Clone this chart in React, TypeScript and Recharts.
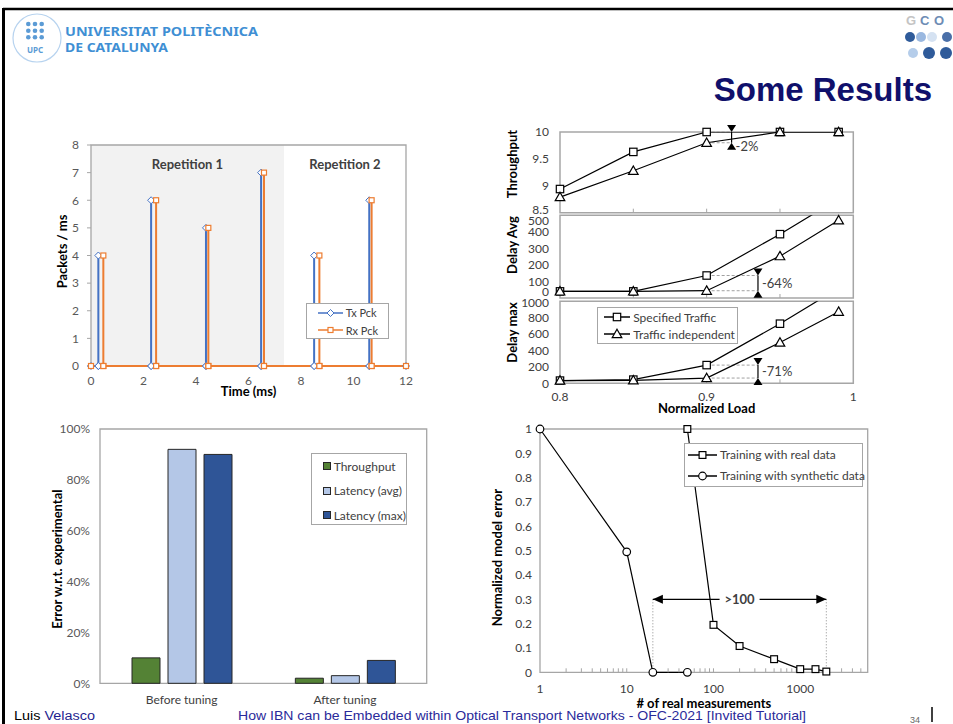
import React from "react"
import {
  LineChart,
  Line,
  BarChart,
  Bar,
  XAxis,
  YAxis,
  ReferenceArea,
  ReferenceLine,
  ReferenceDot,
  Legend,
} from "recharts"

const FONT = "Lato, 'Noto Sans', sans-serif"
const FRAME = "#a6a6a6"

// packets per ms, Tx vs Rx (top left)
const txTimes = [0.28, 2.29, 4.38, 6.48, 8.5, 10.6]
const txPackets = [4, 6, 5, 7, 4, 6]
const rxTimes = [0.47, 2.48, 4.47, 6.59, 8.7, 10.69]
const rxPackets = [4, 6, 5, 7, 4, 6]
const timeTicks = [0, 2, 4, 6, 8, 10, 12]
const packetTicks = [0, 1, 2, 3, 4, 5, 6, 7, 8]
const repetitionNames = ["Repetition 1", "Repetition 2"]
const repetitionEdges = [0, 7.35, 12]
const packetSeries = ["Tx Pck", "Rx Pck"]

// throughput / delay vs normalized load (top right)
const loads = [0.8, 0.85, 0.9, 0.95, 0.99]
const loadTicks = [0.8, 0.85, 0.9, 0.95, 1]
const loadLabels = [0.8, 0.9, 1]
const throughputSpecified = [8.94, 9.63, 10, 10, 10]
const throughputIndependent = [8.79, 9.28, 9.8, 10, 10]
const delayAvgSpecified = [40, 40, 136, 386, 600]
const delayAvgIndependent = [40, 40, 44, 253, 470]
const delayMaxSpecified = [33, 45, 222, 727, 1160]
const delayMaxIndependent = [33, 36, 64, 497, 873]
const throughputTicks = [8.5, 9, 9.5, 10]
const delayAvgTicks = [0, 100, 200, 300, 400, 500]
const delayMaxTicks = [0, 200, 400, 600, 800, 1000]
const gapLoads = [0.917, 0.935, 0.935]
const gapLabels = ["-2%", "-64%", "-71%"]
const gapLabelLevels = [9.73, 90, 150]
const trafficSeries = ["Specified Traffic", "Traffic independent"]

// error before / after tuning (bottom left)
const tuningStages = ["Before tuning", "After tuning"]
const throughputError = [0.1, 0.02]
const latencyAvgError = [0.92, 0.03]
const latencyMaxError = [0.9, 0.09]
const errorTicks = [0, 0.2, 0.4, 0.6, 0.8, 1]
const errorSeries = ["Throughput", "Latency (avg)", "Latency (max)"]

// normalized model error vs # of real measurements (bottom right)
const realCounts = [50, 100, 200, 500, 1000, 1500, 2000]
const realError = [1, 0.195, 0.108, 0.054, 0.013, 0.013, 0.003]
const syntheticCounts = [1, 10, 20, 50]
const syntheticError = [1, 0.495, 0, 0]
const measurementTicks = [1, 10, 100, 1000]
const measurementMinorTicks = [
  2, 3, 4, 5, 6, 7, 8, 9, 10, 20, 30, 40, 50, 60, 70, 80, 90, 100, 200, 300, 400, 500, 600, 700, 800, 900, 1000,
  2000, 3000, 4000, 5000,
]
const normErrorTicks = [0, 0.1, 0.2, 0.3, 0.4, 0.5, 0.6, 0.7, 0.8, 0.9, 1]
const speedupSpan = [20, 2000]
const speedupLevel = 0.3
const speedupLabel = ">100"
const trainingSeries = ["Training with real data", "Training with synthetic data"]

// ---------- small svg pieces

type MarkProps = { cx?: number; cy?: number; ink?: string; size?: number }

const Diamond = ({ cx = 0, cy = 0, ink = "#000", size = 4 }: MarkProps) => (
  <path
    d={`M${cx},${cy - size}L${cx + size},${cy}L${cx},${cy + size}L${cx - size},${cy}Z`}
    fill="#fff"
    stroke={ink}
    strokeWidth={1}
  />
)

const Square = ({ cx = 0, cy = 0, ink = "#000", size = 4 }: MarkProps) => (
  <rect x={cx - size} y={cy - size} width={size * 2} height={size * 2} fill="#fff" stroke={ink} strokeWidth={1.2} />
)

const Triangle = ({ cx = 0, cy = 0, ink = "#000", size = 4.5 }: MarkProps) => (
  <path
    d={`M${cx},${cy - size}L${cx + size},${cy + size * 0.75}L${cx - size},${cy + size * 0.75}Z`}
    fill="#fff"
    stroke={ink}
    strokeWidth={1.2}
  />
)

const Ring = ({ cx = 0, cy = 0, ink = "#000", size = 3.8 }: MarkProps) => (
  <circle cx={cx} cy={cy} r={size} fill="#fff" stroke={ink} strokeWidth={1.2} />
)

const ArrowHead = ({ cx = 0, cy = 0, dir }: { cx?: number; cy?: number; dir: "up" | "down" | "left" | "right" }) => {
  const w = 4.5
  const h = 7
  const d = {
    down: `M${cx},${cy}L${cx - w},${cy - h}L${cx + w},${cy - h}Z`,
    up: `M${cx},${cy}L${cx - w},${cy + h}L${cx + w},${cy + h}Z`,
    left: `M${cx},${cy}L${cx + h + 3},${cy - w}L${cx + h + 3},${cy + w}Z`,
    right: `M${cx},${cy}L${cx - h - 3},${cy - w}L${cx - h - 3},${cy + w}Z`,
  }[dir]
  return <path d={d} fill="#000" />
}

const InnerTick = ({ cx = 0, cy = 0 }: { cx?: number; cy?: number }) => (
  <line x1={cx} y1={cy} x2={cx} y2={cy - 4} stroke={FRAME} strokeWidth={1} />
)

const Blank = () => <g />

const LabelPad = ({ cx = 0, cy = 0 }: { cx?: number; cy?: number }) => (
  <rect x={cx - 20} y={cy - 7} width={40} height={14} fill="#fff" />
)

const sideTitle = (text: string, dx: number, dy: number) => ({
  content: ({ viewBox }: any) => {
    const x = viewBox.x + dx
    const y = viewBox.y + viewBox.height / 2 + dy
    return (
      <text
        x={x}
        y={y}
        transform={`rotate(-90 ${x} ${y})`}
        textAnchor="middle"
        dominantBaseline="central"
        fontSize={13}
        fontWeight={700}
        fill="#000"
      >
        {text}
      </text>
    )
  },
})

const ShiftedTick = ({ x = 0, y = 0, payload, lo, hi, shift }: any) => {
  const v = payload.value
  const dy = v === lo ? shift[0] : v === hi ? shift[1] : 0
  return (
    <text x={x} y={y + dy} dy="0.35em" textAnchor="end" fontSize={12} fill="#404040">
      {v}
    </text>
  )
}

type LegendLayout = {
  left: number
  top: number
  width: number
  height: number
  rowHeight: number
  padTop: number
  iconLeft: number
  iconWidth: number
  fontSize: number
}

function LegendBox({
  payload = [],
  order,
  layout,
  glyph,
}: {
  payload?: any[]
  order: string[]
  layout: LegendLayout
  glyph: (entry: any, w: number, h: number) => React.ReactNode
}) {
  const entries = payload
    .filter((entry) => entry && entry.type !== "none" && order.includes(entry.value))
    .sort((a, b) => order.indexOf(a.value) - order.indexOf(b.value))
  return (
    <div
      style={{
        width: "100%",
        height: "100%",
        boxSizing: "border-box",
        border: `1.3px solid ${FRAME}`,
        background: "#fff",
        paddingTop: layout.padTop,
        fontFamily: FONT,
      }}
    >
      {entries.map((entry) => (
        <div
          key={String(entry.value)}
          style={{
            display: "flex",
            alignItems: "center",
            height: layout.rowHeight,
            paddingLeft: layout.iconLeft,
            fontSize: layout.fontSize,
            color: "#404040",
            whiteSpace: "nowrap",
          }}
        >
          <svg width={layout.iconWidth} height={12} style={{ marginRight: 3, flex: "none" }}>
            {glyph(entry, layout.iconWidth, 12)}
          </svg>
          <span>{entry.value}</span>
        </div>
      ))}
    </div>
  )
}

const lineGlyph = (marks: Record<string, React.ReactElement<any>>) => (entry: any, w: number, h: number) => {
  const mark = marks[entry.value]
  return (
    <>
      <line x1={0} y1={h / 2} x2={w} y2={h / 2} stroke={entry.color} strokeWidth={1.5} />
      {mark ? React.cloneElement(mark, { cx: w / 2, cy: h / 2 }) : null}
    </>
  )
}

const swatchGlyph = (entry: any, w: number, h: number) => (
  <rect x={0.5} y={(h - w) / 2 + 0.5} width={w - 1} height={w - 1} fill={entry.color} stroke="#262626" strokeWidth={1} />
)

const placeLegend = (layout: LegendLayout) => ({
  left: layout.left,
  top: layout.top,
  width: layout.width,
  height: layout.height,
})

// ---------- top left

const spikeRows = (times: number[], values: number[]) => [
  { t: timeTicks[0], v: 0 },
  ...times.flatMap((t, i) => [
    { t, v: 0 },
    { t, v: values[i] },
    { t, v: 0 },
  ]),
  { t: timeTicks[timeTicks.length - 1], v: 0 },
]

const packetLegend: LegendLayout = {
  left: 275.7,
  top: 172.7,
  width: 83.6,
  height: 36.6,
  rowHeight: 17.3,
  padTop: 0.5,
  iconLeft: 11,
  iconWidth: 25,
  fontSize: 11,
}

function PacketChart() {
  const marks: Record<string, React.ReactElement<any>> = {
    "Tx Pck": <Diamond ink="#4472c4" size={3.5} />,
    "Rx Pck": <Square ink="#ed7d31" size={2.5} />,
  }
  return (
    <div style={{ position: "absolute", left: 30, top: 130 }}>
      <LineChart width={390} height={280} margin={{ top: 15, right: 14, bottom: 14, left: 21 }}>
        <XAxis
          type="number"
          dataKey="t"
          domain={[0, 12]}
          ticks={timeTicks}
          interval={0}
          axisLine={false}
          tickLine={false}
          tickSize={6}
          tickMargin={4}
          height={30}
          tick={{ fontSize: 12, fill: "#595959" }}
          label={{ value: "Time (ms)", position: "insideBottom", offset: 0, fontSize: 13, fontWeight: 700, fill: "#000" }}
        />
        <YAxis
          domain={[0, 8]}
          ticks={packetTicks}
          interval={0}
          width={40}
          axisLine={false}
          tickLine={{ stroke: FRAME }}
          tickSize={4}
          tickMargin={8}
          tick={{ fontSize: 12, fill: "#595959" }}
          label={sideTitle("Packets / ms", 10.7, -4)}
        />
        {repetitionNames.map((name, i) => (
          <ReferenceArea
            key={name}
            x1={repetitionEdges[i]}
            x2={repetitionEdges[i + 1]}
            fill={i === 0 ? "#f2f2f2" : "none"}
            fillOpacity={1}
            stroke="none"
            label={{ value: name, position: "insideTop", offset: 14.4, fontSize: 13, fontWeight: 700, fill: "#404040" }}
          />
        ))}
        <ReferenceArea y1={0} y2={8} fill="none" stroke={FRAME} strokeWidth={1.3} />
        <Line
          data={spikeRows(txTimes, txPackets)}
          dataKey="v"
          name={packetSeries[0]}
          stroke="#4472c4"
          strokeWidth={2}
          dot={marks[packetSeries[0]]}
          isAnimationActive={false}
        />
        <Line
          data={spikeRows(rxTimes, rxPackets)}
          dataKey="v"
          name={packetSeries[1]}
          stroke="#ed7d31"
          strokeWidth={2}
          dot={marks[packetSeries[1]]}
          isAnimationActive={false}
        />
        <Legend
          layout="vertical"
          align="center"
          verticalAlign="middle"
          wrapperStyle={placeLegend(packetLegend)}
          content={(props: any) => (
            <LegendBox payload={props.payload} order={packetSeries} layout={packetLegend} glyph={lineGlyph(marks)} />
          )}
        />
      </LineChart>
    </div>
  )
}

// ---------- top right

type PanelSpec = {
  top: number
  height: number
  margin: { top: number; right: number; bottom: number; left: number }
  title: string
  titleDy: number
  specified: number[]
  independent: number[]
  domain: [number, number]
  ticks: number[]
  labelShift: [number, number]
  showLoadAxis?: boolean
  showLegend?: boolean
}

const panels: PanelSpec[] = [
  {
    top: 115,
    height: 110,
    margin: { top: 17, right: 16.7, bottom: 12.3, left: 15 },
    title: "Throughput",
    titleDy: -8.3,
    specified: throughputSpecified,
    independent: throughputIndependent,
    domain: [8.5, 10],
    ticks: throughputTicks,
    labelShift: [-3.4, 0],
  },
  {
    top: 200,
    height: 110,
    margin: { top: 15.3, right: 16.7, bottom: 12, left: 15 },
    title: "Delay Avg",
    titleDy: -11.6,
    specified: delayAvgSpecified,
    independent: delayAvgIndependent,
    domain: [0, 500],
    ticks: delayAvgTicks,
    labelShift: [-6, 5.7],
  },
  {
    top: 285,
    height: 145,
    margin: { top: 16.3, right: 16.7, bottom: 11.7, left: 15 },
    title: "Delay max",
    titleDy: -9.8,
    specified: delayMaxSpecified,
    independent: delayMaxIndependent,
    domain: [0, 1000],
    ticks: delayMaxTicks,
    labelShift: [0, 1.4],
    showLoadAxis: true,
    showLegend: true,
  },
]

const panelLegend: LegendLayout = {
  left: 106.7,
  top: 22,
  width: 141.6,
  height: 36.7,
  rowHeight: 17.3,
  padTop: 0.5,
  iconLeft: 6.5,
  iconWidth: 26,
  fontSize: 12,
}

const loadRows = (values: number[]) => loads.map((load, i) => ({ load, value: values[i] }))

function LoadPanel({ spec, index }: { spec: PanelSpec; index: number }) {
  const [lo, hi] = spec.domain
  const at09 = loads.indexOf(0.9)
  const upper = spec.specified[at09]
  const lower = spec.independent[at09]
  const gx = gapLoads[index]
  const marks: Record<string, React.ReactElement<any>> = {
    [trafficSeries[0]]: <Square size={3.7} />,
    [trafficSeries[1]]: <Triangle size={4.8} />,
  }
  const series = [
    { name: trafficSeries[0], values: spec.specified },
    { name: trafficSeries[1], values: spec.independent },
  ]
  return (
    <div style={{ position: "absolute", left: 490, top: spec.top }}>
      <LineChart width={380} height={spec.height} margin={spec.margin}>
        {spec.showLoadAxis ? (
          <XAxis
            type="number"
            dataKey="load"
            domain={[0.8, 1]}
            ticks={loadLabels}
            interval={0}
            axisLine={false}
            tickLine={false}
            tickSize={5}
            tickMargin={4}
            height={35}
            tick={{ fontSize: 12, fill: "#404040" }}
            label={{
              value: "Normalized Load",
              position: "insideBottom",
              offset: 5,
              fontSize: 13,
              fontWeight: 700,
              fill: "#000",
            }}
          />
        ) : (
          <XAxis type="number" dataKey="load" domain={[0.8, 1]} hide />
        )}
        <YAxis
          yAxisId="v"
          domain={spec.domain}
          ticks={spec.ticks}
          interval={0}
          allowDataOverflow
          width={55}
          axisLine={false}
          tickLine={false}
          tickSize={8}
          tickMargin={3}
          tick={<ShiftedTick lo={spec.ticks[0]} hi={spec.ticks[spec.ticks.length - 1]} shift={spec.labelShift} />}
          label={sideTitle(spec.title, 6.7, spec.titleDy)}
        />
        {/* same scale, no clipping: lets the markers sit on the frame edge */}
        <YAxis yAxisId="m" orientation="right" domain={spec.domain} hide />
        <ReferenceArea yAxisId="v" y1={lo} y2={hi} fill="none" stroke={FRAME} strokeWidth={1.5} />
        {loadTicks.slice(1, -1).map((t) => (
          <ReferenceDot key={t} yAxisId="v" x={t} y={lo} shape={<InnerTick />} />
        ))}
        <ReferenceLine
          yAxisId="v"
          segment={[
            { x: 0.9, y: upper },
            { x: gx, y: upper },
          ]}
          stroke="#a0a0a0"
          strokeDasharray="3 2"
        />
        <ReferenceLine
          yAxisId="v"
          segment={[
            { x: 0.9, y: lower },
            { x: gx, y: lower },
          ]}
          stroke="#a0a0a0"
          strokeDasharray="3 2"
        />
        <ReferenceLine
          yAxisId="v"
          segment={[
            { x: gx, y: upper },
            { x: gx, y: lower },
          ]}
          stroke="#000"
          strokeWidth={1.2}
        />
        <ReferenceDot yAxisId="v" x={gx} y={upper} shape={<ArrowHead dir="down" />} />
        <ReferenceDot yAxisId="v" x={gx} y={lower} shape={<ArrowHead dir="up" />} />
        <ReferenceDot
          yAxisId="v"
          x={gx}
          y={gapLabelLevels[index]}
          r={0}
          shape={<Blank />}
          label={{ value: gapLabels[index], position: "right", offset: 4, fontSize: 13, fill: "#404040" }}
        />
        {series.map((s) => (
          <Line
            key={s.name}
            yAxisId="v"
            data={loadRows(s.values)}
            dataKey="value"
            name={s.name}
            stroke="#000"
            strokeWidth={1.2}
            dot={false}
            isAnimationActive={false}
          />
        ))}
        {series.map((s) => (
          <Line
            key={`${s.name}-marks`}
            yAxisId="m"
            data={loadRows(s.values).filter((r) => r.value <= hi)}
            dataKey="value"
            stroke="none"
            legendType="none"
            dot={marks[s.name]}
            isAnimationActive={false}
          />
        ))}
        {spec.showLegend && (
          <Legend
            layout="vertical"
            align="center"
            verticalAlign="middle"
            wrapperStyle={placeLegend(panelLegend)}
            content={(props: any) => (
              <LegendBox payload={props.payload} order={trafficSeries} layout={panelLegend} glyph={lineGlyph(marks)} />
            )}
          />
        )}
      </LineChart>
    </div>
  )
}

// ---------- bottom left

const tuningLegend: LegendLayout = {
  left: 280.7,
  top: 38,
  width: 96.6,
  height: 72,
  rowHeight: 24.5,
  padTop: 0,
  iconLeft: 11,
  iconWidth: 8,
  fontSize: 12,
}

function TuningChart() {
  const rows = tuningStages.map((stage, i) => ({
    stage,
    throughput: throughputError[i],
    latencyAvg: latencyAvgError[i],
    latencyMax: latencyMaxError[i],
  }))
  return (
    <div style={{ position: "absolute", left: 30, top: 415 }}>
      <BarChart
        width={410}
        height={300}
        data={rows}
        margin={{ top: 14, right: 13.3, bottom: 6.7, left: 25 }}
        barSize={28}
        barGap={8}
      >
        <XAxis
          dataKey="stage"
          interval={0}
          axisLine={false}
          tickLine={false}
          tickSize={6}
          tickMargin={6}
          height={25}
          tick={{ fontSize: 12, fill: "#404040" }}
        />
        <YAxis
          domain={[0, 1]}
          ticks={errorTicks}
          interval={0}
          tickFormatter={(v: number) => `${Math.round(v * 100)}%`}
          width={45}
          axisLine={false}
          tickLine={false}
          tickSize={5}
          tickMargin={5}
          tick={{ fontSize: 12, fill: "#595959" }}
          label={sideTitle("Error w.r.t. experimental", 2, 3)}
        />
        <ReferenceArea y1={0} y2={1} fill="none" stroke={FRAME} strokeWidth={1.3} />
        <Bar dataKey="throughput" name={errorSeries[0]} fill="#548235" stroke="#262626" strokeWidth={1} isAnimationActive={false} />
        <Bar dataKey="latencyAvg" name={errorSeries[1]} fill="#b4c7e7" stroke="#262626" strokeWidth={1} isAnimationActive={false} />
        <Bar dataKey="latencyMax" name={errorSeries[2]} fill="#2f5597" stroke="#262626" strokeWidth={1} isAnimationActive={false} />
        <Legend
          layout="vertical"
          align="center"
          verticalAlign="middle"
          wrapperStyle={placeLegend(tuningLegend)}
          content={(props: any) => (
            <LegendBox payload={props.payload} order={errorSeries} layout={tuningLegend} glyph={swatchGlyph} />
          )}
        />
      </BarChart>
    </div>
  )
}

// ---------- bottom right

const measurementLegend: LegendLayout = {
  left: 204,
  top: 28,
  width: 178.7,
  height: 43.7,
  rowHeight: 21,
  padTop: 0,
  iconLeft: 3,
  iconWidth: 29,
  fontSize: 12,
}

function MeasurementChart() {
  const real = realCounts.map((n, i) => ({ n, e: realError[i] }))
  const synthetic = syntheticCounts.map((n, i) => ({ n, e: syntheticError[i] }))
  const marks: Record<string, React.ReactElement<any>> = {
    [trainingSeries[0]]: <Square size={3.4} />,
    [trainingSeries[1]]: <Ring size={3.8} />,
  }
  return (
    <div style={{ position: "absolute", left: 480, top: 415 }}>
      <LineChart width={400} height={300} margin={{ top: 14, right: 12.3, bottom: 7.7, left: 20 }}>
        <XAxis
          type="number"
          dataKey="n"
          scale="log"
          domain={[1, 6000]}
          ticks={measurementTicks}
          interval={0}
          axisLine={false}
          tickLine={false}
          tickSize={6}
          tickMargin={6}
          height={35}
          tick={{ fontSize: 12, fill: "#404040" }}
          label={{
            value: "# of real measurements",
            position: "insideBottom",
            offset: -1,
            fontSize: 13,
            fontWeight: 700,
            fill: "#000",
          }}
        />
        <YAxis
          domain={[0, 1]}
          ticks={normErrorTicks}
          interval={0}
          width={40}
          axisLine={false}
          tickLine={false}
          tickSize={5}
          tickMargin={3}
          tick={{ fontSize: 12, fill: "#404040" }}
          label={sideTitle("Normalized model error", -3.3, 7)}
        />
        <ReferenceArea y1={0} y2={1} fill="none" stroke={FRAME} strokeWidth={1.3} />
        {measurementMinorTicks.map((t) => (
          <ReferenceDot key={t} x={t} y={0} shape={<InnerTick />} />
        ))}
        {speedupSpan.map((n) => (
          <ReferenceLine
            key={n}
            segment={[
              { x: n, y: 0 },
              { x: n, y: speedupLevel },
            ]}
            stroke="#8c8c8c"
            strokeDasharray="1 2"
          />
        ))}
        <ReferenceLine
          segment={[
            { x: speedupSpan[0], y: speedupLevel },
            { x: speedupSpan[1], y: speedupLevel },
          ]}
          stroke="#000"
          strokeWidth={1.3}
        />
        <ReferenceDot x={speedupSpan[0]} y={speedupLevel} shape={<ArrowHead dir="left" />} />
        <ReferenceDot x={speedupSpan[1]} y={speedupLevel} shape={<ArrowHead dir="right" />} />
        <ReferenceDot
          x={Math.sqrt(speedupSpan[0] * speedupSpan[1])}
          y={speedupLevel}
          r={0}
          shape={<LabelPad />}
          label={{ value: speedupLabel, position: "center", fontSize: 13, fontWeight: 700, fill: "#404040" }}
        />
        <Line
          data={real}
          dataKey="e"
          name={trainingSeries[0]}
          stroke="#000"
          strokeWidth={1.2}
          dot={marks[trainingSeries[0]]}
          isAnimationActive={false}
        />
        <Line
          data={synthetic}
          dataKey="e"
          name={trainingSeries[1]}
          stroke="#000"
          strokeWidth={1.2}
          dot={marks[trainingSeries[1]]}
          isAnimationActive={false}
        />
        <Legend
          layout="vertical"
          align="center"
          verticalAlign="middle"
          wrapperStyle={placeLegend(measurementLegend)}
          content={(props: any) => (
            <LegendBox payload={props.payload} order={trainingSeries} layout={measurementLegend} glyph={lineGlyph(marks)} />
          )}
        />
      </LineChart>
    </div>
  )
}

// ---------- slide frame (header / footer)

function SlideFrame() {
  const upcBlue = "#3f8fd4"
  return (
    <svg width={953} height={724} style={{ position: "absolute", left: 0, top: 0 }}>
      <rect x={0} y={0} width={953} height={724} fill="#fff" />
      <line x1={3} y1={9} x2={953} y2={9} stroke="#000" strokeWidth={2.5} />
      <line x1={3.5} y1={8} x2={3.5} y2={724} stroke="#000" strokeWidth={3} />

      <circle cx={37} cy={38} r={24} fill="none" stroke="#b7d3ef" strokeWidth={1.2} />
      {[24, 30.7, 37.3].map((y) =>
        [28.3, 35, 41.7].map((x) => <circle key={`${x}-${y}`} cx={x} cy={y} r={2.3} fill="#5b9bd5" />)
      )}
      <text x={35} y={53} textAnchor="middle" fontFamily="'Noto Sans', sans-serif" fontWeight={700} fontSize={8} fill="#5b9bd5">
        UPC
      </text>
      <text x={65} y={36} fontFamily="'Noto Sans', sans-serif" fontWeight={700} fontSize={13} fill={upcBlue} textLength={193} lengthAdjust="spacingAndGlyphs">
        UNIVERSITAT POLITÈCNICA
      </text>
      <text x={65} y={52} fontFamily="'Noto Sans', sans-serif" fontWeight={700} fontSize={13} fill={upcBlue} textLength={103} lengthAdjust="spacingAndGlyphs">
        DE CATALUNYA
      </text>

      <text x={906} y={25} fontFamily="'Liberation Sans', Arial, sans-serif" fontWeight={700} fontSize={13} fill="#c4c4c4">
        G
      </text>
      <text x={920} y={25} fontFamily="'Liberation Sans', Arial, sans-serif" fontWeight={700} fontSize={13} fill="#6e8db5">
        C
      </text>
      <text x={934} y={25} fontFamily="'Liberation Sans', Arial, sans-serif" fontWeight={700} fontSize={13} fill="#6e8db5">
        O
      </text>
      <circle cx={910} cy={37} r={5} fill="#2f5b9a" />
      <circle cx={921} cy={37} r={5} fill="#9ab8e0" />
      <circle cx={932} cy={37} r={5} fill="#d5e2f2" />
      <circle cx={947} cy={37} r={5} fill="#4a6fa8" />
      <circle cx={913} cy={53} r={5} fill="#b5cdea" />
      <circle cx={929} cy={53} r={6} fill="#2f5b9a" />
      <circle cx={946} cy={53} r={6} fill="#2f5b9a" />

      <text
        x={932}
        y={101}
        textAnchor="end"
        fontFamily="'Liberation Sans', Arial, sans-serif"
        fontWeight={700}
        fontSize={33}
        fill="#10106b"
      >
        Some Results
      </text>

      <text x={14} y={720} fontFamily="'Liberation Sans', Arial, sans-serif" fontSize={12.5} textLength={81} lengthAdjust="spacingAndGlyphs">
        <tspan fill="#000">Luis</tspan>
        <tspan fill="#1f1f8f"> Velasco</tspan>
      </text>
      <text
        x={238}
        y={720}
        fontFamily="'Liberation Sans', Arial, sans-serif"
        fontSize={13}
        fill="#2a2a9a"
        textLength={568}
        lengthAdjust="spacingAndGlyphs"
      >
        How IBN can be Embedded within Optical Transport Networks - OFC-2021 [Invited Tutorial]
      </text>
      <text x={910} y={723} fontFamily="'Liberation Sans', Arial, sans-serif" fontSize={9} fill="#666">
        34
      </text>
      <line x1={932} y1={707} x2={932} y2={722} stroke="#000" strokeWidth={1.5} />
    </svg>
  )
}

export default function App() {
  return (
    <div
      style={{
        position: "absolute",
        left: 0,
        top: 0,
        width: 953,
        height: 724,
        overflow: "hidden",
        background: "#fff",
        fontFamily: FONT,
      }}
    >
      <SlideFrame />
      <PacketChart />
      {panels.map((spec, i) => (
        <LoadPanel key={spec.title} spec={spec} index={i} />
      ))}
      <TuningChart />
      <MeasurementChart />
    </div>
  )
}
